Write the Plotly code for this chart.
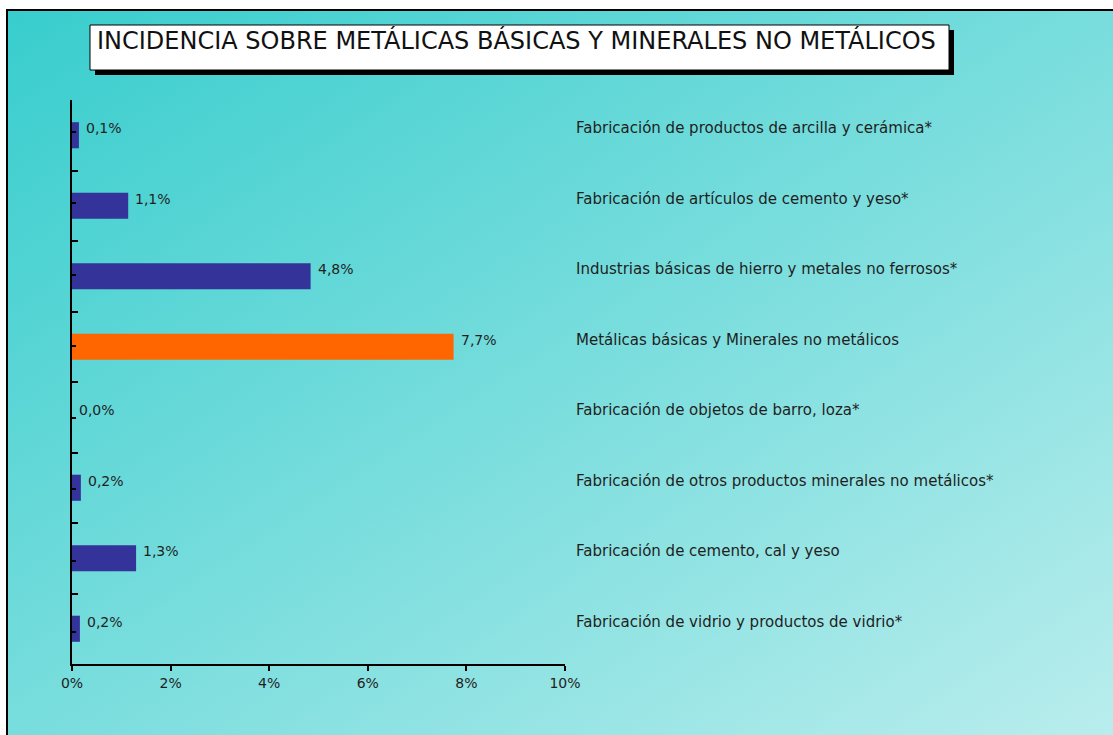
import base64
import plotly.graph_objects as go

# ---- data (top to bottom) ----
categories = [
    "Fabricación de productos de arcilla y cerámica*",
    "Fabricación de artículos de cemento y yeso*",
    "Industrias básicas de hierro y metales no ferrosos*",
    "Metálicas básicas y Minerales no metálicos",
    "Fabricación de objetos de barro, loza*",
    "Fabricación de otros productos minerales no metálicos*",
    "Fabricación de cemento, cal y yeso",
    "Fabricación de vidrio y productos de vidrio*",
]
values = [0.14, 1.14, 4.84, 7.74, 0.0, 0.18, 1.3, 0.16]
value_labels = ["0,1%", "1,1%", "4,8%", "7,7%", "0,0%", "0,2%", "1,3%", "0,2%"]
bar_colors = ["#333399", "#333399", "#333399", "#FF6600",
              "#333399", "#333399", "#333399", "#333399"]
x_ticks = [0, 2, 4, 6, 8, 10]
x_tick_text = ["0%", "2%", "4%", "6%", "8%", "10%"]
title_text = "INCIDENCIA SOBRE METÁLICAS BÁSICAS Y MINERALES NO METÁLICOS"

# ---- layout geometry (page pixels) ----
W, H = 1113, 735
L, R, T, B = 72, 565, 100, 664
FONT = "DejaVu Sans"
TXT = "#1f1f1f"


def px(xp):
    return (xp - L) / (R - L)


def py(yp):
    return (B - yp) / (B - T)


fig = go.Figure()
fig.add_trace(go.Bar(
    x=values, y=categories, orientation="h",
    marker=dict(color=bar_colors, line=dict(width=0)),
    width=0.37,
    hoverinfo="skip",
))
# invisible helper trace for center ticks on overlay axis
fig.add_trace(go.Scatter(
    x=[0] * len(categories), y=categories, yaxis="y2", mode="markers",
    marker=dict(opacity=0), hoverinfo="skip", showlegend=False,
))

# gradient background as SVG
svg = (
    '<svg xmlns="http://www.w3.org/2000/svg" width="1106" height="725" preserveAspectRatio="none">'
    '<defs><linearGradient id="g" x1="0" y1="0" x2="1" y2="1">'
    '<stop offset="0" stop-color="#38CDCD"/>'
    '<stop offset="1" stop-color="#BAEDED"/>'
    '</linearGradient></defs>'
    '<rect x="0" y="0" width="100%" height="100%" fill="url(#g)"/></svg>'
)
src = "data:image/svg+xml;base64," + base64.b64encode(svg.encode()).decode()

shapes = [
    # outer border (left and top)
    dict(type="line", xref="paper", yref="paper", x0=px(7), x1=px(7), y0=py(760), y1=py(10),
         line=dict(color="black", width=2), layer="above"),
    dict(type="line", xref="paper", yref="paper", x0=px(6), x1=px(1130), y0=py(10), y1=py(10),
         line=dict(color="black", width=2), layer="above"),
    # title shadow
    dict(type="rect", xref="paper", yref="paper", x0=px(95), x1=px(954), y0=py(30), y1=py(75),
         fillcolor="black", line=dict(width=0), layer="above"),
    # title box
    dict(type="rect", xref="paper", yref="paper", x0=px(90), x1=px(949), y0=py(25), y1=py(70),
         fillcolor="white", line=dict(color="black", width=1), layer="above"),
]

annotations = [
    dict(text=title_text, xref="paper", yref="paper", x=px(95), y=py(24),
         xanchor="left", yanchor="top", showarrow=False,
         font=dict(family=FONT, size=24, color="#111111")),
]
for c, v, lab in zip(categories, values, value_labels):
    annotations.append(dict(
        text=lab, xref="x", yref="y", x=v, y=c, xshift=5, yshift=7,
        xanchor="left", yanchor="middle", showarrow=False,
        font=dict(family=FONT, size=14, color=TXT)))
    annotations.append(dict(
        text=c, xref="x domain", yref="y", x=1, y=c, xshift=9, yshift=7,
        xanchor="left", yanchor="middle", showarrow=False,
        font=dict(family=FONT, size=15, color=TXT)))

fig.update_layout(
    width=W, height=H,
    margin=dict(l=L, r=W - R, t=T, b=H - B, pad=0),
    paper_bgcolor="white", plot_bgcolor="rgba(0,0,0,0)",
    showlegend=False,
    images=[dict(source=src, xref="paper", yref="paper",
                 x=px(7), y=py(10), sizex=px(W + 5) - px(7), sizey=py(10) - py(H + 5),
                 xanchor="left", yanchor="top", sizing="stretch", layer="below")],
    shapes=shapes,
    annotations=annotations,
    xaxis=dict(range=[0, 10], tickvals=x_ticks, ticktext=x_tick_text,
               showgrid=False, zeroline=False, showline=True, linecolor="black", linewidth=1.5,
               ticks="outside", ticklen=5, tickcolor="black", tickwidth=1.5,
               tickfont=dict(family=FONT, size=14, color=TXT)),
    yaxis=dict(type="category", categoryorder="array", categoryarray=categories,
               autorange="reversed", showgrid=False, zeroline=False,
               showline=True, linecolor="black", linewidth=1.5,
               ticks="inside", ticklen=6, tickcolor="black", tickwidth=1.5,
               tickson="boundaries", showticklabels=False),
    yaxis2=dict(type="category", categoryorder="array", categoryarray=categories,
                overlaying="y", side="left", autorange="reversed",
                showgrid=False, zeroline=False, showline=False,
                ticks="inside", ticklen=4, tickcolor="black", tickwidth=1.5,
                showticklabels=False),
)

fig.write_html(
    "out.html",
    config={"displayModeBar": False},
    post_script="document.body.style.margin='0';document.body.style.overflow='hidden';",
)
